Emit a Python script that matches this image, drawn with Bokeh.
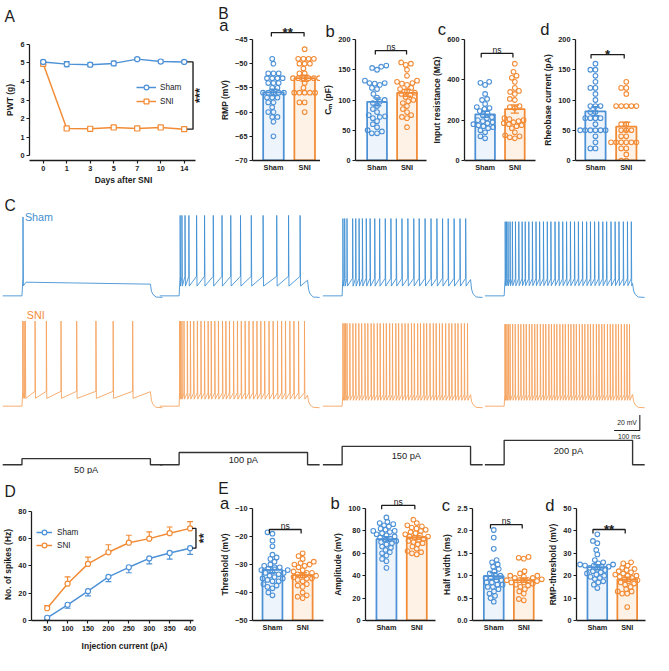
import numpy as np
from bokeh.plotting import figure
from bokeh.models import (Range1d, FixedTicker, Label, Legend, LegendItem,
                          NumeralTickFormatter, GridBox)
from bokeh.layouts import row, column
from bokeh.embed import file_html
from bokeh.resources import INLINE

# ---------------------------------------------------------------- data
days = ["0", "1", "3", "5", "7", "10", "14"]
pwt_sham = [5.05, 4.93, 4.90, 4.97, 5.20, 5.07, 5.05]
pwt_sham_sem = [0.09, 0.14, 0.10, 0.12, 0.07, 0.08, 0.07]
pwt_sni = [4.95, 1.47, 1.45, 1.52, 1.47, 1.52, 1.43]
pwt_sni_sem = [0.06, 0.08, 0.05, 0.06, 0.06, 0.07, 0.08]

groups = ["Sham", "SNI"]

rmp_sham = [-49, -50, -52, -52, -52, -53, -53, -53, -53, -54, -54, -54, -55, -55, -56, -56,
            -56, -56, -56, -57, -57, -57, -58, -58, -59, -60, -60, -61, -61, -62, -65]
rmp_sni = [-47, -49, -49, -49, -49, -50, -50, -50, -51, -52, -52, -53, -53, -53, -53, -53,
           -53, -54, -55, -56, -56, -56, -56, -56, -58, -58, -60]

cm_sham = [157, 155, 153, 150, 132, 128, 128, 127, 125, 120, 118, 110, 104, 100, 97, 95,
           90, 85, 80, 75, 73, 72, 70, 65, 60, 55, 50, 45, 48, 45]
cm_sni = [162, 160, 158, 150, 140, 132, 130, 128, 127, 125, 120, 118, 115, 112, 110, 108,
          105, 100, 98, 95, 90, 85, 80, 75, 72, 70, 55]

rin_sham = [390, 385, 375, 330, 305, 300, 280, 265, 260, 255, 245, 235, 225, 215, 210, 200,
            195, 190, 185, 180, 175, 170, 165, 160, 150, 140, 120, 110]
rin_sni = [480, 440, 420, 410, 390, 360, 345, 340, 330, 300, 305, 265, 260, 270, 210, 200,
           205, 195, 190, 185, 180, 175, 170, 160, 140, 125, 120, 115, 110]

rheo_sham = [160, 150, 150, 140, 130, 120, 120, 110, 100, 90, 90, 90, 80, 80, 70, 70, 70,
             70, 60, 50, 50, 50, 50, 50, 50, 40, 30, 20, 20]
rheo_sni = [130, 120, 120, 110, 90, 90, 90, 90, 90, 60, 60, 50, 50, 50, 40, 40, 30, 30, 30,
            30, 30, 30, 20, 20, 10, 0, 0]

thr_sham = [-18.5, -19, -21.5, -23.5, -26.5, -27.5, -28, -29, -30, -30.5, -31, -31, -31.5,
            -32, -32, -32.5, -33, -33, -33.5, -34, -34.5, -35, -35, -35.5, -36, -36, -37,
            -37.5, -38, -38.5, -40, -41]
thr_sni = [-26, -27, -28, -29, -29.5, -30, -30, -30.5, -31, -32, -32.5, -33, -33, -33.5, -34,
           -34, -34.5, -35, -35, -35.5, -36, -37, -37.5, -38, -40, -41, -41.5, -42]

amp_sham = [92, 88, 87, 86, 85, 84, 82, 81, 80, 80, 79, 78, 77, 76, 75, 74, 73, 72, 71, 70,
            69, 68, 66, 65, 63, 61, 60, 58, 55, 53, 47]
amp_sni = [90, 87, 85, 84, 83, 82, 81, 80, 79, 78, 77, 76, 75, 75, 74, 73, 72, 71, 70, 69,
           68, 66, 64, 62, 61, 60, 59]

hw_sham = [2.02, 1.85, 1.6, 1.35, 1.3, 1.25, 1.2, 1.15, 1.1, 1.05, 1.0, 1.0, 0.95, 0.95, 0.9,
           0.9, 0.85, 0.85, 0.8, 0.8, 0.75, 0.75, 0.7, 0.65, 0.6, 0.55, 0.5, 0.42]
hw_sni = [1.42, 1.4, 1.38, 1.1, 1.05, 1.0, 1.0, 0.98, 0.95, 0.95, 0.92, 0.9, 0.9, 0.9, 0.88,
          0.85, 0.85, 0.82, 0.8, 0.78, 0.75, 0.7, 0.65, 0.6, 0.48, 0.45]

rmpthr_sham = [38.5, 35.5, 34.5, 31.5, 29.5, 27, 26, 25.5, 25, 25, 24.5, 24.5, 24, 24, 23.5,
               23, 22.5, 22, 21.5, 21, 20.5, 20, 19.5, 19, 18.5, 17.5, 17, 16, 14.5]
rmpthr_sni = [26, 25.5, 24.5, 23.5, 23, 22.5, 22, 21.5, 21, 20.5, 20, 20, 19.5, 19, 18.5, 18,
              17.5, 17, 16.5, 16, 15, 14, 13, 13, 12, 12, 6]

currents = [50, 100, 150, 200, 250, 300, 350, 400]
nspk_sham = [2, 11.5, 21.5, 32, 39, 45.5, 49.5, 53]
nspk_sham_sem = [1.2, 2.5, 3.5, 3.5, 4, 4, 4.5, 4.5]
nspk_sni = [9, 27, 41.5, 50, 57, 60, 64, 67.5]
nspk_sni_sem = [2, 5, 5, 5.5, 5.5, 5, 4.5, 5]

# representative recordings: step currents and spike times (ms after step onset)
step_currents = [50, 100, 150, 200]
step_labels = ["50 pA", "100 pA", "150 pA", "200 pA"]
step_duration_ms = 500
sham_rest_mv = -65
sni_rest_mv = -60
sham_spike_ms = [
    [4],
    [4, 11, 23, 38, 68, 99, 133, 167, 201, 239, 281, 327, 380, 426, 471],
    [3, 10, 19, 41, 53, 66, 79, 94, 109, 127, 146, 168, 190, 211, 233, 256, 279, 300, 323,
     346, 369, 391, 413, 436, 459, 481],
    [4, 9, 15, 23, 32, 44, 57, 70, 82, 96, 110, 124, 138, 153, 168, 182, 198, 213, 228, 243,
     258, 274, 289, 305, 321, 336, 352, 368, 384, 399, 416, 432, 447, 464, 480, 495],
]
sni_spike_ms = [
    [3, 8, 13, 51, 95, 152, 213, 288, 355, 431],
    [2, 6, 11, 19, 32, 44, 57, 71, 85, 99, 113, 125, 139, 153, 169, 182, 196, 212, 227, 242,
     257, 272, 288, 303, 318, 333, 350, 366, 383, 399, 414, 431, 447, 465, 488],
    [3, 8, 13, 19, 30, 42, 53, 65, 76, 89, 100, 113, 124, 137, 148, 161, 172, 185, 196, 209,
     220, 233, 245, 257, 270, 281, 294, 305, 318, 329, 342, 355, 366, 379, 390, 403, 416,
     427, 440, 451, 464, 476, 488],
    [3, 6, 11, 17, 23, 33, 43, 55, 65, 76, 86, 98, 108, 119, 129, 141, 152, 162, 174, 184,
     195, 205, 217, 228, 238, 250, 260, 271, 281, 293, 304, 314, 326, 336, 347, 359, 369,
     380, 390, 402, 413, 423, 435, 445, 456, 468, 478, 488],
]
# threshold, AHP trough, spike peak (mV) per trace
sham_thr_mv = [-42, -40, -42.5, -43]
sham_ahp_mv = [-52, -52.5, -52.5, -52]
sham_peak_mv = [36, 38, 34, 30]
sham_plateau_mv = [-47.5, -50]
sni_thr_mv = [-41, -43, -45, -45]
sni_ahp_mv = [-50, -51, -52.5, -52.5]
sni_peak_mv = [49, 49, 46, 45]

panel_letters = ["A", "B", "a", "b", "c", "d", "C", "D", "E", "a", "b", "c", "d"]
panel_letter_sizes = [16, 16, 17, 17, 17, 17, 16, 16, 16, 17, 17, 17, 17]

# ---------------------------------------------------------------- style
S = 653 / 669
FONT = "Liberation Sans"
INK = "#1c1c1c"
BLUE = "#4d91d6"
ORANGE = "#f28b35"
BLUE_FILL = "#edf4fc"
ORANGE_FILL = "#fef2e7"
TR_BLUE = "#3f8fd2"
TR_ORANGE = "#f5a25e"
STEP_INK = "#333333"


def fpx(v):
    return f"{v * S:.2f}px"


class Panel:
    pass


def make_panel(x0, x1, y0, y1, frame, xcal, ycal):
    L, R, T, B = frame
    W = round(x1 * S) - round(x0 * S)
    H = round(y1 * S) - round(y0 * S)
    bl = round(L * S) - round(x0 * S)
    br = round(x1 * S) - round(R * S)
    bt = round(T * S) - round(y0 * S)
    bb = round(y1 * S) - round(B * S)
    u0, q0, u1, q1 = xcal
    kx = (q1 - q0) / (u1 - u0)
    v1, p1, v2, p2 = ycal
    ky = (p2 - p1) / (v1 - v2)
    xs, xe = u0 - (q0 - L) / kx, u1 + (R - q1) / kx
    ys, ye = v2 - (B - p2) / ky, v1 + (p1 - T) / ky
    p = figure(width=W, height=H, x_range=Range1d(xs, xe), y_range=Range1d(ys, ye),
               min_border_left=bl, min_border_right=br, min_border_top=bt,
               min_border_bottom=bb, toolbar_location=None, tools="",
               output_backend="svg", title=None)
    p.grid.visible = False
    p.outline_line_color = None
    p.background_fill_color = "white"
    p.border_fill_color = "white"
    P = Panel()
    P.p, P.kx, P.ky = p, kx, ky
    P.fx = lambda X: u0 + (X - q0) / kx
    P.fy = lambda Y: v1 - (Y - p1) / ky
    P.px = lambda u: q0 + (u - u0) * kx
    P.py = lambda v: p1 + (v1 - v) * ky
    return P


def style_axes(p, xticks, yticks, xlabel=None, ylabel=None, xover=None, xbounds=None,
               ybounds=None, yfmt=None, xlab_standoff=2, xtick_out=3):
    xa, ya = p.xaxis[0], p.yaxis[0]
    for ax in (xa, ya):
        ax.axis_line_color = INK
        ax.axis_line_width = 1.3 * S
        ax.major_tick_line_color = INK
        ax.major_tick_line_width = 1.2 * S
        ax.major_tick_in = 0
        ax.major_tick_out = 3
        ax.minor_tick_line_color = None
        ax.major_label_text_font = FONT
        ax.major_label_text_font_style = "bold"
        ax.major_label_text_font_size = fpx(7.5)
        ax.major_label_text_color = INK
        ax.axis_label_text_font = FONT
        ax.axis_label_text_font_style = "bold"
        ax.axis_label_text_font_size = fpx(8.7)
        ax.axis_label_text_color = INK
        ax.major_label_standoff = 2
        ax.axis_label_standoff = 2
    xa.major_tick_out = xtick_out
    xa.axis_label_standoff = xlab_standoff
    xa.ticker = FixedTicker(ticks=list(xticks))
    ya.ticker = FixedTicker(ticks=list(yticks))
    xa.axis_label = xlabel
    ya.axis_label = ylabel
    if xover:
        xa.major_label_overrides = xover
    if xbounds:
        xa.bounds = xbounds
    if ybounds:
        ya.bounds = ybounds
    if yfmt:
        ya.formatter = NumeralTickFormatter(format=yfmt)


def add_text(p, x, y, text, size, bold=False, color=INK, align="left",
             baseline="alphabetic", angle=0.0):
    p.add_layout(Label(x=x, y=y, text=text, text_font=FONT, text_font_size=fpx(size),
                       text_font_style="bold" if bold else "normal", text_color=color,
                       text_align=align, text_baseline=baseline, angle=angle))


def swarm_offsets(vals, kx, ky, d=5.6):
    ypx = np.asarray(vals, dtype=float) * ky
    order = np.argsort(ypx, kind="stable")
    qx_l, qy_l = [], []
    out = np.zeros(len(ypx))
    for i in order:
        y = ypx[i]
        cands = [0.0]
        for qx, qy in zip(qx_l, qy_l):
            dy = abs(qy - y)
            if dy < d:
                dx = np.sqrt(d * d - dy * dy)
                cands.extend([qx + dx, qx - dx])
        cands.sort(key=lambda c: (round(abs(c), 6), c))
        chosen = 0.0
        for c in cands:
            if all((c - qx) ** 2 + (y - qy) ** 2 >= d * d - 1e-6 for qx, qy in zip(qx_l, qy_l)):
                chosen = c
                break
        qx_l.append(chosen)
        qy_l.append(y)
        out[i] = chosen / kx
    return out


brackets = []  # (panel, y level in data units, text, bold)


def bar_panel(P, base, sham, sni, sig, sig_y, sig_bold):
    p, kx, ky = P.p, P.kx, P.ky
    for i, (vals, col, fill) in enumerate([(sham, BLUE, BLUE_FILL), (sni, ORANGE, ORANGE_FILL)]):
        v = np.asarray(vals, dtype=float)
        m = v.mean()
        se = v.std(ddof=1) / np.sqrt(len(v))
        p.vbar(x=[i], width=0.66, bottom=[base], top=[m], fill_color=fill,
               line_color=col, line_width=1.8 * S)
        off = swarm_offsets(v, kx, ky)
        p.scatter(x=i + off, y=v, marker="circle", size=4.8 * S, fill_color=None,
                  line_color=col, line_width=1.1 * S)
        cw = 4.5 / kx
        p.segment(x0=[i, i - cw, i - cw], y0=[m - se, m - se, m + se],
                  x1=[i, i + cw, i + cw], y1=[m + se, m - se, m + se],
                  line_color=col, line_width=1.5 * S)
    brackets.append((P, sig_y, sig, sig_bold))


XOVER = {0: groups[0], 1: groups[1]}

# ---------------------------------------------------------------- A
PA = make_panel(0, 222, 0, 192, (30, 222, 40, 167), (0, 44, 6, 188), (6, 45, 0, 162))
pA = PA.p
idx = list(range(len(days)))
style_axes(pA, idx, range(0, 7), xlabel="Days after SNI", ylabel="PWT (g)",
           xover={i: d for i, d in enumerate(days)},
           xbounds=(pA.x_range.start, PA.fx(200)), ybounds=(0, 6), xlab_standoff=1)
rendsA = {}
for name, vals, sem, col, mk in [("SNI", pwt_sni, pwt_sni_sem, ORANGE, "square"),
                                 ("Sham", pwt_sham, pwt_sham_sem, BLUE, "circle")]:
    vals = np.asarray(vals)
    sem = np.asarray(sem)
    ln = pA.line(idx, vals, line_color=col, line_width=1.5 * S)
    cw = 3 / PA.kx
    x = np.asarray(idx, dtype=float)
    pA.segment(x0=x, y0=vals - sem, x1=x, y1=vals + sem, line_color=col, line_width=1.2 * S)
    pA.segment(x0=x - cw, y0=vals + sem, x1=x + cw, y1=vals + sem, line_color=col, line_width=1.2 * S)
    pA.segment(x0=x - cw, y0=vals - sem, x1=x + cw, y1=vals - sem, line_color=col, line_width=1.2 * S)
    sc = pA.scatter(idx, vals, marker=mk, size=5.2 * S, fill_color="white", line_color=col,
                    line_width=1.2 * S)
    rendsA[name] = [ln, sc]
legA = Legend(items=[LegendItem(label="Sham", renderers=rendsA["Sham"]),
                     LegendItem(label="SNI", renderers=rendsA["SNI"])],
              location=(round(110 * S), round(54 * S)), background_fill_alpha=0,
              border_line_alpha=0, padding=0, margin=0, spacing=round(2 * S),
              glyph_width=round(20 * S), glyph_height=round(12 * S),
              label_height=round(12 * S), label_standoff=round(4 * S),
              label_text_font=FONT, label_text_font_size=fpx(8.4), label_text_color=INK)
pA.add_layout(legA)
pA.line(x=[PA.fx(191), PA.fx(197), PA.fx(197), PA.fx(191)],
        y=[pwt_sham[-1], pwt_sham[-1], pwt_sni[-1], pwt_sni[-1]], line_color=INK,
        line_width=1.4 * S)
add_text(pA, PA.fx(204), (pwt_sham[-1] + pwt_sni[-1]) / 2, "***", 13, bold=True,
         align="center", baseline="middle", angle=np.pi / 2)

# ---------------------------------------------------------------- B
PBa = make_panel(222, 328, 0, 192, (255, 328, 35, 171), (0, 277.5, 1, 311), (-45, 35, -70, 171))
style_axes(PBa.p, [0, 1], range(-70, -44, 5), ylabel="RMP (mV)", xover=XOVER,
           ybounds=(-70, -45), xtick_out=0)
bar_panel(PBa, -70, rmp_sham, rmp_sni, "**", -44.6, True)

PBb = make_panel(328, 440, 0, 192, (361, 440, 35, 171), (0, 384, 1, 416), (200, 35, 0, 171))
style_axes(PBb.p, [0, 1], range(0, 201, 50), ylabel="Cₘ (pF)", xover=XOVER,
           ybounds=(0, 200), xbounds=(PBb.p.x_range.start, PBb.fx(437)), xtick_out=0)
bar_panel(PBb, 0, cm_sham, cm_sni, "ns", 176, False)

PBc = make_panel(440, 553, 0, 192, (470, 553, 35, 171), (0, 492.5, 1, 525), (600, 35, 0, 171))
style_axes(PBc.p, [0, 1], range(0, 601, 200), ylabel="Input resistance (MΩ)", xover=XOVER,
           ybounds=(0, 600), xbounds=(PBc.p.x_range.start, PBc.fx(548)), xtick_out=0)
bar_panel(PBc, 0, rin_sham, rin_sni, "ns", 515, False)

PBd = make_panel(553, 669, 0, 192, (583, 669, 35, 171), (0, 605, 1, 639), (200, 35, 0, 171))
style_axes(PBd.p, [0, 1], range(0, 201, 50), ylabel="Rheobase current (pA)", xover=XOVER,
           ybounds=(0, 200), xbounds=(PBd.p.x_range.start, PBd.fx(660)), xtick_out=0)
bar_panel(PBd, 0, rheo_sham, rheo_sni, "*", 170, True)

# ---------------------------------------------------------------- C (traces)
MS_PER_PX = 3.8
MV_PER_PX = 1.25
PA_PER_PX = 8.0
onset_px = [22, 183, 350, 516]
CW = round(669 * S)
CH = round(486 * S) - round(192 * S)


def cy(px):
    return sham_rest_mv - (px - 303) * MV_PER_PX


def cpa(px):
    return (476 - px) * PA_PER_PX


def cx(px):
    return px * MS_PER_PX


pC = figure(width=CW, height=CH, x_range=Range1d(0, cx(669)), y_range=Range1d(cy(486), cy(192)),
            min_border_left=0, min_border_right=0, min_border_top=0, min_border_bottom=0,
            x_axis_location=None, y_axis_location=None, toolbar_location=None, tools="",
            output_backend="svg", title=None)
pC.extra_y_ranges = {"pa": Range1d(cpa(486), cpa(192))}
pC.grid.visible = False
pC.outline_line_color = None

PRE, POST = 75.0, 47.0
SNI_SHIFT = cy(416) - sni_rest_mv


def build_trace(spk, rest, thr, ahp, peak, plateau=None):
    t = [-PRE, 0.0]
    v = [rest, rest]
    if spk[0] > 12:
        t.append(8.0)
        v.append(ahp)
    for s in spk:
        t += [s - 0.4, s, s + 1.6]
        v += [thr, peak, ahp]
    last = spk[-1]
    if plateau is not None:
        t += [last + 12, step_duration_ms]
        v += [plateau[0], plateau[1]]
    else:
        isi = np.mean(np.diff(spk[-4:])) if len(spk) > 2 else 60.0
        frac = min(1.0, (step_duration_ms - last) / isi)
        t.append(step_duration_ms)
        v.append(ahp + (thr - ahp) * frac)
    vl = v[-1]
    d = step_duration_ms
    t += [d + 4, d + 10, d + 22, d + POST]
    v += [rest + 0.4 * (vl - rest), rest + 0.12 * (vl - rest), rest - 1.5, rest - 2.0]
    return np.asarray(t), np.asarray(v)


for j in range(4):
    x0 = cx(onset_px[j])
    t, v = build_trace(sham_spike_ms[j], sham_rest_mv, sham_thr_mv[j], sham_ahp_mv[j],
                       sham_peak_mv[j], sham_plateau_mv if j == 0 else None)
    pC.line(x0 + t, v, line_color=TR_BLUE, line_width=0.9 * S)
    t, v = build_trace(sni_spike_ms[j], sni_rest_mv, sni_thr_mv[j], sni_ahp_mv[j],
                       sni_peak_mv[j])
    pC.line(x0 + t, v + SNI_SHIFT, line_color=TR_ORANGE, line_width=0.9 * S)
    st = [-PRE, 0, 0, step_duration_ms, step_duration_ms, step_duration_ms + POST]
    sv = [0, 0, step_currents[j], step_currents[j], 0, 0]
    pC.line(x0 + np.asarray(st), sv, y_range_name="pa", line_color=STEP_INK,
            line_width=1.4 * S)

label_y_px = [481.5, 471, 467, 462]
for j in range(4):
    add_text(pC, cx(onset_px[j]) + step_duration_ms / 2, cy(label_y_px[j]), step_labels[j],
             9.5, align="center", baseline="middle", color="#222222")

sb_x = cx(655)
sb_y = cy(441)
pC.line(x=[sb_x - 100, sb_x, sb_x], y=[sb_y, sb_y, sb_y + 20], line_color=INK,
        line_width=1.1 * S)
add_text(pC, cx(652), cy(433), "20 mV", 7, align="right", baseline="middle")
add_text(pC, cx(644), cy(447.5), "100 ms", 7, align="center", baseline="middle")
add_text(pC, cx(25), cy(222), "Sham", 11, color=TR_BLUE)
add_text(pC, cx(27), cy(323), "SNI", 11, color=ORANGE)

# ---------------------------------------------------------------- D
PD = make_panel(0, 222, 486, 671, (32, 222, 517, 635), (50, 48, 400, 194), (80, 520, 0, 635))
pD = PD.p
style_axes(pD, currents, range(0, 81, 20), xlabel="Injection current (pA)",
           ylabel="No. of spikes (Hz)", xbounds=(pD.x_range.start, PD.fx(197)),
           ybounds=(0, 80), xlab_standoff=7)
rendsD = {}
cur = np.asarray(currents, dtype=float)
for name, vals, sem, col, sign in [("Sham", nspk_sham, nspk_sham_sem, BLUE, -1),
                                   ("SNI", nspk_sni, nspk_sni_sem, ORANGE, 1)]:
    vals = np.asarray(vals)
    sem = np.asarray(sem)
    ln = pD.line(cur, vals, line_color=col, line_width=1.5 * S)
    cw = 3 / PD.kx
    end = vals + sign * sem
    pD.segment(x0=cur, y0=vals, x1=cur, y1=end, line_color=col, line_width=1.2 * S)
    pD.segment(x0=cur - cw, y0=end, x1=cur + cw, y1=end, line_color=col, line_width=1.2 * S)
    sc = pD.scatter(cur, vals, marker="circle", size=5.2 * S, fill_color="white",
                    line_color=col, line_width=1.2 * S)
    rendsD[name] = [ln, sc]
legD = Legend(items=[LegendItem(label="Sham", renderers=rendsD["Sham"]),
                     LegendItem(label="SNI", renderers=rendsD["SNI"])],
              location=(round(5 * S), round(71 * S)), background_fill_alpha=0,
              border_line_alpha=0, padding=0, margin=0, spacing=round(1 * S),
              glyph_width=round(16 * S), glyph_height=round(12 * S),
              label_height=round(12 * S), label_standoff=round(5 * S),
              label_text_font=FONT, label_text_font_size=fpx(8.4), label_text_color=INK)
pD.add_layout(legD)
pD.line(x=[PD.fx(196), PD.fx(200), PD.fx(200), PD.fx(196)],
        y=[nspk_sni[-1], nspk_sni[-1], nspk_sham[-1], nspk_sham[-1]], line_color=INK,
        line_width=1.4 * S)
add_text(pD, PD.fx(208), (nspk_sni[-1] + nspk_sham[-1]) / 2, "**", 13, bold=True,
         align="center", baseline="middle", angle=np.pi / 2)

# ---------------------------------------------------------------- E
PEa = make_panel(222, 338, 486, 671, (254, 338, 520, 657), (0, 275.5, 1, 308), (-10, 520, -50, 657))
style_axes(PEa.p, [0, 1], range(-50, -9, 10), ylabel="Threshold (mV)", xover=XOVER,
           ybounds=(-50, -10), xbounds=(PEa.p.x_range.start, PEa.fx(330)), xtick_out=0)
bar_panel(PEa, -50, thr_sham, thr_sni, "ns", -16.4, False)

PEb = make_panel(338, 450, 486, 671, (367, 450, 520, 657), (0, 390.5, 1, 424.5), (100, 520, 0, 657))
style_axes(PEb.p, [0, 1], range(0, 101, 20), ylabel="Amplitude (mV)", xover=XOVER,
           ybounds=(0, 100), xbounds=(PEb.p.x_range.start, PEb.fx(446)), xtick_out=0)
bar_panel(PEb, 0, amp_sham, amp_sni, "ns", 102, False)

PEc = make_panel(450, 558, 486, 671, (479, 558, 520, 657), (0, 502, 1, 534.5), (2.5, 520, 0, 657))
style_axes(PEc.p, [0, 1], [0, 0.5, 1.0, 1.5, 2.0, 2.5], ylabel="Half width (ms)", xover=XOVER,
           ybounds=(0, 2.5), xbounds=(PEc.p.x_range.start, PEc.fx(555)), yfmt="0.0", xtick_out=0)
bar_panel(PEc, 0, hw_sham, hw_sni, "ns", 2.19, False)

PEd = make_panel(558, 669, 486, 671, (584, 669, 520, 657), (0, 607, 1, 640), (50, 520, 0, 657))
style_axes(PEd.p, [0, 1], range(0, 51, 10), ylabel="RMP-threshold (mV)", xover=XOVER,
           ybounds=(0, 50), xbounds=(PEd.p.x_range.start, PEd.fx(660)), xtick_out=0)
bar_panel(PEd, 0, rmpthr_sham, rmpthr_sni, "**", 42, True)

# ---------------------------------------------------------------- annotation overlay
main = column(row(PA.p, PBa.p, PBb.p, PBc.p, PBd.p), pC,
              row(PD.p, PEa.p, PEb.p, PEc.p, PEd.p))

ov = figure(width=round(669 * S), height=round(671 * S), x_range=Range1d(0, 669),
            y_range=Range1d(671, 0), min_border_left=0, min_border_right=0,
            min_border_top=0, min_border_bottom=0, x_axis_location=None,
            y_axis_location=None, toolbar_location=None, tools="", output_backend="svg",
            title=None)
ov.grid.visible = False
ov.outline_line_color = None
ov.background_fill_color = None
ov.border_fill_color = None

letter_xy = [(4, 16), (223, 13.5), (224, 25.5), (333, 32), (448, 30), (553, 30), (4, 210),
             (4, 503), (223, 500), (225, 515.5), (338, 515.5), (452, 517), (558, 517)]
for (lx, ly), txt, sz in zip(letter_xy, panel_letters, panel_letter_sizes):
    add_text(ov, lx, ly, txt, sz)

# significance brackets between the two bars (positions from each panel's scales)
for P, sy, txt, bold in brackets:
    xa_, xb_ = P.px(0), P.px(1)
    yb_ = P.py(sy)
    ov.line(x=[xa_, xa_, xb_, xb_], y=[yb_ + 4, yb_, yb_, yb_ + 4], line_color=INK,
            line_width=1.3 * S)
    if bold:
        add_text(ov, (xa_ + xb_) / 2, yb_ - 0.5, txt, 13.5, bold=True, align="center")
    else:
        add_text(ov, (xa_ + xb_) / 2, yb_ - 3.7, txt, 8.8, align="center")

layout = GridBox(children=[(main, 0, 0), (ov, 0, 0)])

with open("out.html", "w") as f:
    f.write(file_html(layout, INLINE))
